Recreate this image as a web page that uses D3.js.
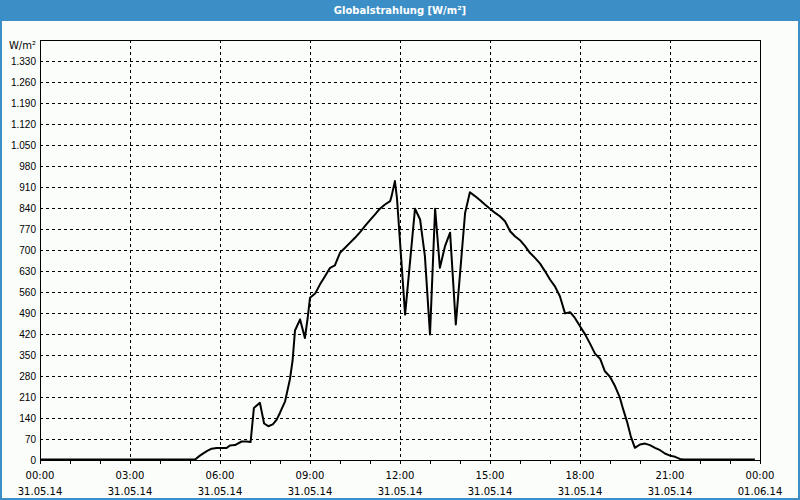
<!DOCTYPE html>
<html>
<head>
<meta charset="utf-8">
<script src="https://cdn.jsdelivr.net/npm/d3@7"></script>
<style>
  html, body { margin: 0; padding: 0; background: #fff; }
  svg { display: block; font-family: "DejaVu Sans", Verdana, sans-serif; }
  .tick text { font-size: 10px; fill: #000; }
</style>
</head>
<body>
<svg id="chart"></svg>
<script>
// ─── Data ─────────────────────────────────────────────────────────────────────
const title = "Globalstrahlung [W/m²]";
const unitLabel = "W/m²";

// Time of day in hours since 00:00 on 31.05.14
const hours = [
  0, 5.17, 5.33, 5.56, 5.72, 5.89, 6.22, 6.33, 6.5, 6.72, 6.89, 7.02, 7.13, 7.33,
  7.47, 7.61, 7.76, 7.89, 8.0, 8.17, 8.33, 8.42, 8.5, 8.67, 8.83, 8.92, 9.0,
  9.17, 9.33, 9.5, 9.67, 9.83, 10.0, 10.17, 10.33, 10.5, 10.67, 10.83, 11.0,
  11.17, 11.33, 11.5, 11.67, 11.72, 11.83, 11.9, 12.17, 12.5, 12.67, 12.83,
  13.0, 13.17, 13.33, 13.5, 13.67, 13.86, 14.17, 14.33, 14.5, 14.67, 14.83,
  15.0, 15.17, 15.33, 15.5, 15.67, 15.83, 16.0, 16.17, 16.33, 16.5, 16.67,
  16.83, 17.0, 17.17, 17.33, 17.5, 17.67, 17.83, 18.0, 18.17, 18.33, 18.5,
  18.67, 18.83, 19.0, 19.17, 19.33, 19.44, 19.58, 19.69, 19.83, 20.0, 20.17,
  20.33, 20.5, 20.67, 20.83, 21.0, 21.17, 21.33, 21.44, 23.83
];
// Global radiation in W/m²
const radiation = [
  0, 0, 13, 28, 36, 38, 38, 47, 48, 60, 60, 58, 172, 189,
  120, 111, 117, 133, 156, 194, 267, 330, 430, 467, 405, 470, 539,
  553, 583, 611, 639, 647, 689, 706, 722, 739, 758, 778, 798,
  817, 836, 850, 861, 878, 928, 870, 483, 836, 800, 678,
  417, 836, 639, 711, 756, 450, 822, 891, 878, 864, 850,
  836, 822, 811, 794, 761, 744, 731, 711, 689, 672, 653,
  628, 600, 576, 544, 487, 491, 472, 444, 417, 387, 353,
  336, 294, 276, 244, 206, 167, 122, 78, 39, 50, 53,
  48, 39, 31, 20, 13, 9, 2, 0, 0
];

const yTicks = d3.range(0, 1331, 70);
const xMajorHours = [0, 3, 6, 9, 12, 15, 18, 21, 24];
const xTimeLabels = ["00:00", "03:00", "06:00", "09:00", "12:00", "15:00", "18:00", "21:00", "00:00"];
const xDateLabels = ["31.05.14", "31.05.14", "31.05.14", "31.05.14", "31.05.14",
                     "31.05.14", "31.05.14", "31.05.14", "01.06.14"];

// ─── Configuration ────────────────────────────────────────────────────────────
const CONFIG = {
  width: 800,
  height: 500,
  titleHeight: 21,
  plot: { left: 40, right: 760, top: 40, bottom: 460 },
  colors: {
    frame: "#3c8ec6",
    background: "#fbfdfb",
    ink: "#000"
  }
};

// German number format: 1.330
const de = d3.formatLocale({ decimal: ",", thousands: ".", grouping: [3], currency: ["", " €"] });
const formatValue = de.format(",d");

// ─── Scales ───────────────────────────────────────────────────────────────────
const x = d3.scaleLinear().domain([0, 24]).range([CONFIG.plot.left, CONFIG.plot.right]);
const y = d3.scaleLinear().domain([0, 1400]).range([CONFIG.plot.bottom, CONFIG.plot.top]);

const svg = d3.select("#chart")
  .attr("width", CONFIG.width)
  .attr("height", CONFIG.height);

// ─── Background, title bar, outer frame ──────────────────────────────────────
svg.append("rect")
  .attr("width", CONFIG.width).attr("height", CONFIG.height)
  .attr("fill", CONFIG.colors.background);

svg.append("rect")
  .attr("width", CONFIG.width).attr("height", CONFIG.titleHeight)
  .attr("fill", CONFIG.colors.frame);

svg.append("rect")
  .attr("x", 1).attr("y", 1)
  .attr("width", CONFIG.width - 2).attr("height", CONFIG.height - 2)
  .attr("fill", "none")
  .attr("stroke", CONFIG.colors.frame)
  .attr("stroke-width", 2);

svg.append("text")
  .attr("x", CONFIG.width / 2)
  .attr("y", 14)
  .attr("text-anchor", "middle")
  .attr("fill", "#fff")
  .attr("font-size", 10)
  .attr("font-weight", "bold")
  .text(title);

// ─── Dashed grid ──────────────────────────────────────────────────────────────
const grid = svg.append("g")
  .attr("stroke", CONFIG.colors.ink)
  .attr("stroke-width", 1)
  .attr("stroke-dasharray", "3,3")
  .attr("shape-rendering", "crispEdges");

grid.selectAll("line.h")
  .data(yTicks.filter(v => v > 0))
  .join("line")
  .attr("class", "h")
  .attr("x1", CONFIG.plot.left).attr("x2", CONFIG.plot.right)
  .attr("y1", d => Math.round(y(d)) + 0.5).attr("y2", d => Math.round(y(d)) + 0.5);

grid.selectAll("line.v")
  .data(xMajorHours.slice(1, -1))
  .join("line")
  .attr("class", "v")
  .attr("x1", d => Math.round(x(d)) + 0.5).attr("x2", d => Math.round(x(d)) + 0.5)
  .attr("y1", CONFIG.plot.top).attr("y2", CONFIG.plot.bottom);

// ─── Plot frame ───────────────────────────────────────────────────────────────
svg.append("rect")
  .attr("x", CONFIG.plot.left + 0.5)
  .attr("y", CONFIG.plot.top + 0.5)
  .attr("width", CONFIG.plot.right - CONFIG.plot.left)
  .attr("height", CONFIG.plot.bottom - CONFIG.plot.top)
  .attr("fill", "none")
  .attr("stroke", CONFIG.colors.ink)
  .attr("shape-rendering", "crispEdges");

// ─── Axes ─────────────────────────────────────────────────────────────────────
svg.append("g")
  .attr("transform", `translate(${CONFIG.plot.left},0)`)
  .call(d3.axisLeft(y).tickValues(yTicks).tickSize(0).tickPadding(4).tickFormat(formatValue))
  .call(g => g.select(".domain").remove());

svg.append("text")
  .attr("x", CONFIG.plot.left - 4)
  .attr("y", 49)
  .attr("text-anchor", "end")
  .attr("font-size", 10)
  .text(unitLabel);

// Hourly ticks below the baseline
svg.append("g")
  .attr("transform", `translate(0,${CONFIG.plot.bottom})`)
  .call(d3.axisBottom(x).tickValues(d3.range(0, 25)).tickSize(4).tickSizeOuter(0).tickFormat(""))
  .call(g => g.select(".domain").attr("shape-rendering", "crispEdges"))
  .call(g => g.selectAll(".tick line").attr("shape-rendering", "crispEdges"));

// Two-line time/date labels
const xLabels = svg.append("g")
  .attr("font-size", 10)
  .attr("text-anchor", "middle");

xLabels.selectAll("text.time")
  .data(xMajorHours)
  .join("text")
  .attr("class", "time")
  .attr("x", d => x(d))
  .attr("y", 479)
  .text((d, i) => xTimeLabels[i]);

xLabels.selectAll("text.date")
  .data(xMajorHours)
  .join("text")
  .attr("class", "date")
  .attr("x", d => x(d))
  .attr("y", 495)
  .text((d, i) => xDateLabels[i]);

// ─── Radiation line ───────────────────────────────────────────────────────────
const line = d3.line()
  .x(i => x(hours[i]))
  .y(i => y(radiation[i]) - 0.5);

svg.append("path")
  .datum(d3.range(hours.length))
  .attr("d", line)
  .attr("fill", "none")
  .attr("stroke", CONFIG.colors.ink)
  .attr("stroke-width", 2)
  .attr("stroke-linejoin", "round");
</script>
</body>
</html>
